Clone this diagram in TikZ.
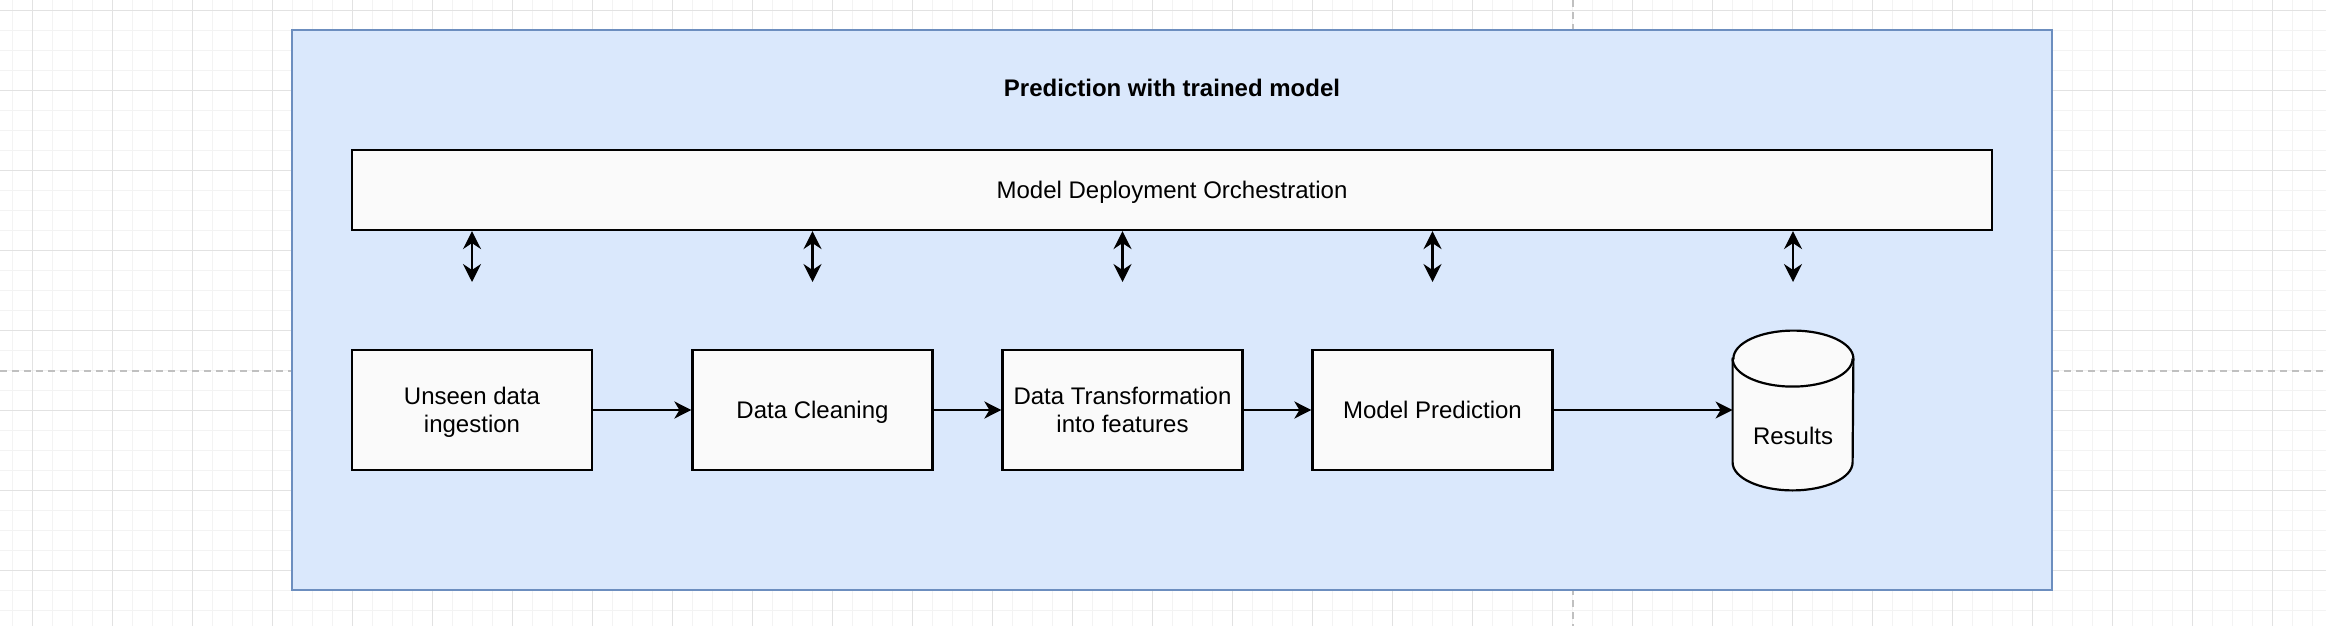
\documentclass[tikz,border=0pt]{standalone}
\usepackage{fontspec}
\setmainfont{Liberation Sans}
\usepackage{tikz}
\usetikzlibrary{arrows.meta}
\usepackage{xcolor}
\definecolor{gridminor}{HTML}{F3F3F3}
\definecolor{gridmajor}{HTML}{E2E2E2}
\definecolor{pagedash}{HTML}{C0C0C0}
\definecolor{framefill}{HTML}{DAE8FC}
\definecolor{framedraw}{HTML}{6C8EBF}
\definecolor{boxfill}{HTML}{FAFAFA}

\begin{document}
\begin{tikzpicture}[x=0.5pt,y=-0.5pt,>={Stealth[length=8.5pt,width=8.5pt,inset=2.5pt]},
		every node/.style={font=\fontsize{12pt}{14pt}\selectfont},
		stage/.style={draw,line width=1.1pt,fill=boxfill,minimum width=120pt,minimum height=60pt,align=center,inner sep=0pt,text depth=0pt},
		flow/.style={line width=1.1pt}]
		
		% Canvas and grid
		\fill[white] (0,0) rectangle (2326,626);
		\useasboundingbox (0,0) rectangle (2326,626);
		\foreach \gx in {12.5,32.5,...,2326} \draw[gridminor,line width=0.5pt] (\gx,0) -- (\gx,626);
		\foreach \gy in {10.5,30.5,...,626} \draw[gridminor,line width=0.5pt] (0,\gy) -- (2326,\gy);
		\foreach \gx in {32.5,112.5,...,2326} \draw[gridmajor,line width=0.5pt] (\gx,0) -- (\gx,626);
		\foreach \gy in {10.5,90.5,...,626} \draw[gridmajor,line width=0.5pt] (0,\gy) -- (2326,\gy);
		\draw[pagedash,line width=1pt,dash pattern=on 3.5pt off 2.5pt] (0,370.5) -- (2326,370.5);
		\draw[pagedash,line width=1pt,dash pattern=on 3.5pt off 2.5pt] (1572.5,0) -- (1572.5,626);
		
		% Container
		\node[draw=framedraw,fill=framefill,line width=0.9pt,minimum width=880pt,minimum height=280pt] (pred) at (1172,310) {};
		\node[font=\fontsize{12pt}{14pt}\selectfont\bfseries] (title) at (1172,87.5) {Prediction with trained model};
		\node[stage,minimum width=820pt,minimum height=40pt] (orch) at (1172,190) {Model Deployment Orchestration};
		
		% Pipeline stages
		\node[stage] (m1) at (472,410) {Unseen data\\ingestion};
		\node[stage] (m2) at (812.5,410) {Data Cleaning};
		\node[stage] (m3) at (1122.5,410) {Data Transformation\\into features};
		\node[stage] (m4) at (1432.5,410) {Model Prediction};
		
		% Results store
		\node[minimum width=60pt,minimum height=79.5pt,inner sep=0pt] (res) at (1793,410.5) {};
		\filldraw[flow,fill=boxfill] ([yshift=-14pt]res.north west) -- ([yshift=14pt]res.south west)
			arc[start angle=180,end angle=360,x radius=30pt,y radius=14pt] -- ([yshift=-14pt]res.north east)
			arc[start angle=0,end angle=180,x radius=30pt,y radius=14pt] -- cycle;
		\draw[flow] ([yshift=-14pt]res.north west) arc[start angle=180,end angle=360,x radius=30pt,y radius=14pt];
		\node (restxt) at (1793,435.5) {Results};
		
		% Data flow
		\draw[flow,->] (m1) -- (m2);
		\draw[flow,->] (m2) -- (m3);
		\draw[flow,->] (m3) -- (m4);
		\draw[flow,->] (m4.east) -- (res.west |- m4.east);
		
		% Orchestration links
		\foreach \n in {m1,m2,m3,m4,res} {
			\coordinate (\n top) at (\n |- 0,282);
			\draw[flow,{Stealth[length=9pt,width=9pt,inset=3pt]}-{Stealth[length=9pt,width=9pt,inset=3pt]}] (orch.south -| \n) -- (\n top);
		}
		
	\end{tikzpicture}
\end{document}
